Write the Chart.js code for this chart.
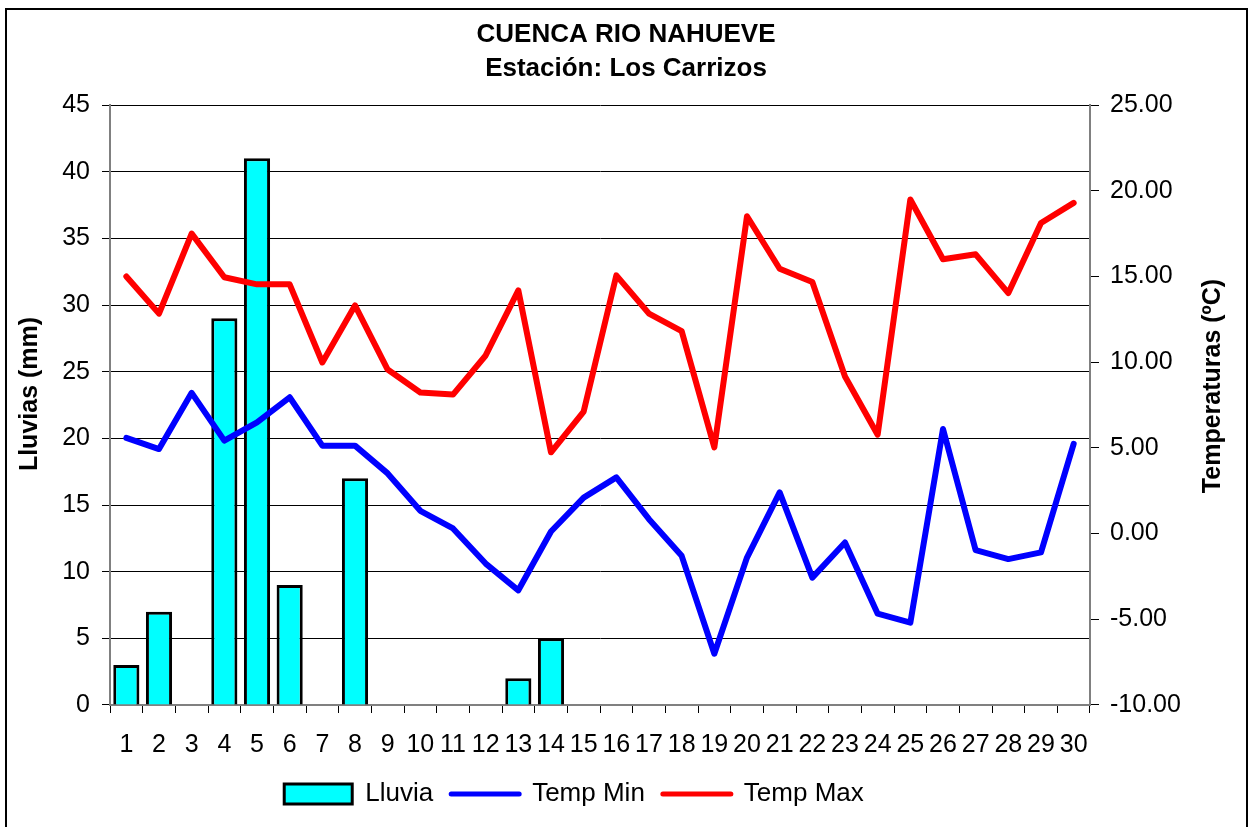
<!DOCTYPE html>
<html>
<head>
<meta charset="utf-8">
<script src="https://cdn.jsdelivr.net/npm/chart.js@4/dist/chart.umd.min.js"></script>
<style>
html,body{margin:0;padding:0;background:#fff;}
#wrap{width:1252px;height:827px;position:relative;}
</style>
</head>
<body>
<div id="wrap"><canvas id="c" width="1252" height="827"></canvas></div>
<script>
const days = ['1','2','3','4','5','6','7','8','9','10','11','12','13','14','15','16','17','18','19','20','21','22','23','24','25','26','27','28','29','30'];
const lluvia = [3,7,0,29,41,9,0,17,0,0,0,0,2,5,0,0,0,0,0,0,0,0,0,0,0,0,0,0,0,0];
const tempMin = [5.58,4.93,8.21,5.42,6.49,7.95,5.13,5.13,3.51,1.33,0.30,-1.75,-3.31,0.12,2.10,3.28,0.84,-1.30,-7.01,-1.40,2.40,-2.57,-0.52,-4.67,-5.20,6.10,-0.97,-1.49,-1.10,5.23];
const tempMax = [15.00,12.83,17.50,14.95,14.54,14.54,9.98,13.31,9.57,8.23,8.11,10.39,14.19,4.74,7.12,15.06,12.83,11.81,5.03,18.51,15.45,14.67,9.16,5.77,19.49,16.00,16.29,14.03,18.12,19.29];
const titleLines = ['CUENCA RIO NAHUEVE','Estación: Los Carrizos'];
const leftTitle = 'Lluvias (mm)';
const rightTitle = 'Temperaturas (ºC)';
const seriesNames = ['Lluvia','Temp Min','Temp Max'];

const FONT = "'Liberation Sans', Arial, sans-serif";

const framePlugin = {
  id: 'frame',
  beforeDraw(chart) {
    const ctx = chart.ctx;
    ctx.save();
    ctx.fillStyle = '#fff';
    ctx.fillRect(0, 0, chart.width, chart.height);
    ctx.strokeStyle = '#000';
    ctx.lineWidth = 2;
    ctx.strokeRect(6, 9, 1241, 830);
    ctx.restore();
  },
  afterLayout(chart) {
    const lg = chart.legend;
    if (lg) { lg.left -= 52; lg.right -= 52; lg.top -= 8; lg.bottom -= 8; }
  },
  afterDraw(chart) {
    const ctx = chart.ctx;
    ctx.save();
    ctx.fillStyle = '#000';
    ctx.font = 'bold 25px ' + FONT;
    ctx.textAlign = 'center';
    ctx.textBaseline = 'middle';
    ctx.translate(30, 394);
    ctx.rotate(-Math.PI / 2);
    ctx.fillText(leftTitle, 0, 0);
    ctx.restore();
    ctx.save();
    ctx.fillStyle = '#000';
    ctx.font = 'bold 25px ' + FONT;
    ctx.textAlign = 'center';
    ctx.textBaseline = 'middle';
    ctx.translate(1213, 386);
    ctx.rotate(-Math.PI / 2);
    ctx.fillText(rightTitle, 0, 0);
    ctx.restore();
  }
};

new Chart(document.getElementById('c'), {
  data: {
    labels: days,
    datasets: [
      { type: 'bar', label: seriesNames[0], data: lluvia, yAxisID: 'y', order: 3,
        backgroundColor: '#00FFFF', borderColor: '#000', borderWidth: 3,
        barPercentage: 0.8, categoryPercentage: 1.0 },
      { type: 'line', label: seriesNames[1], data: tempMin, yAxisID: 'y1', order: 1,
        borderColor: '#0000FF', backgroundColor: '#0000FF', borderWidth: 6,
        pointRadius: 0, tension: 0, borderCapStyle: 'round', borderJoinStyle: 'round' },
      { type: 'line', label: seriesNames[2], data: tempMax, yAxisID: 'y1', order: 2,
        borderColor: '#FF0000', backgroundColor: '#FF0000', borderWidth: 6,
        pointRadius: 0, tension: 0, borderCapStyle: 'round', borderJoinStyle: 'round' }
    ]
  },
  options: {
    responsive: false,
    animation: false,
    layout: { padding: { left: 0, right: 0, top: 0, bottom: 2 } },
    plugins: {
      tooltip: { enabled: false },
      title: {
        display: true,
        text: titleLines,
        color: '#000',
        font: { family: FONT, size: 26, weight: 'bold', lineHeight: 1.308 },
        padding: { top: 18, bottom: 19 }
      },
      legend: {
        display: true,
        position: 'bottom',
        labels: {
          color: '#000',
          font: { family: FONT, size: 26 },
          usePointStyle: true,
          pointStyleWidth: 68,
          boxHeight: 20,
          padding: 18,
          sort: (a, b) => a.datasetIndex - b.datasetIndex,
          generateLabels(chart) {
            const items = Chart.defaults.plugins.legend.labels.generateLabels(chart);
            items.forEach(it => {
              if (it.datasetIndex === 0) {
                it.pointStyle = 'rect';
                it.fillStyle = '#00FFFF';
                it.strokeStyle = '#000';
                it.lineWidth = 3;
              } else {
                it.pointStyle = 'line';
                it.lineWidth = 5;
                it.lineCap = 'round';
              }
            });
            return items;
          }
        }
      }
    },
    scales: {
      x: {
        type: 'category',
        offset: true,
        grid: { display: true, offset: true, drawOnChartArea: false, drawTicks: true, tickLength: 8, color: '#000', lineWidth: 1 },
        border: { display: true, color: '#808080', width: 2 },
        ticks: { autoSkip: false, maxRotation: 0, minRotation: 0, padding: 17, color: '#000', font: { family: FONT, size: 25 } },
        afterFit(scale) { scale.height = scale.height - 6; }
      },
      y: {
        position: 'left',
        min: 0, max: 45,
        ticks: { stepSize: 5, padding: 12, color: '#000', font: { family: FONT, size: 25 } },
        grid: { color: '#000', lineWidth: 1, tickLength: 8, tickColor: '#000' },
        border: { display: true, color: '#808080', width: 2 },
        afterFit(scale) { scale.width = 110; }
      },
      y1: {
        position: 'right',
        min: -10, max: 25,
        ticks: { stepSize: 5, padding: 11, color: '#000', font: { family: FONT, size: 25 },
          callback: v => Number(v).toFixed(2) },
        grid: { drawOnChartArea: false, tickLength: 9, color: '#000' },
        border: { display: true, color: '#808080', width: 2 },
        afterFit(scale) { scale.width = 162; }
      }
    }
  },
  plugins: [framePlugin]
});
</script>
</body>
</html>
